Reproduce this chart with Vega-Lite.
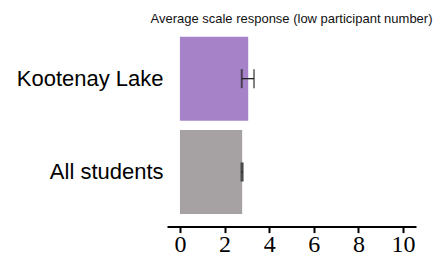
{
  "$schema": "https://vega.github.io/schema/vega-lite/v6.json",
  "width": 249,
  "height": 186.6,
  "autosize": {"type": "none"},
  "padding": {"left": 167, "top": 32, "right": 31, "bottom": 40},
  "background": "white",
  "config": {"view": {"stroke": null}, "font": "Liberation Sans"},
  "title": {
    "text": "Average scale response (low participant number)",
    "fontSize": 13,
    "fontWeight": "normal",
    "font": "Liberation Sans",
    "color": "#111111",
    "anchor": "middle",
    "baseline": "alphabetic",
    "offset": -4
  },
  "data": {
    "values": [
      {"group": "Kootenay Lake", "mean": 3.06, "lo": 2.77, "hi": 3.32},
      {"group": "All students", "mean": 2.79, "lo": 2.76, "hi": 2.82}
    ]
  },
  "encoding": {
    "y": {
      "field": "group",
      "type": "nominal",
      "sort": ["Kootenay Lake", "All students"],
      "scale": {"paddingInner": 0.1, "paddingOuter": 0.05},
      "axis": {
        "title": null,
        "domain": false,
        "ticks": false,
        "labelFontSize": 22,
        "labelColor": "black",
        "labelPadding": 4,
        "labelFont": "Liberation Sans"
      }
    }
  },
  "layer": [
    {
      "mark": {"type": "bar"},
      "encoding": {
        "x": {
          "field": "mean",
          "type": "quantitative",
          "scale": {"domain": [-0.58, 10.58], "nice": false, "zero": false},
          "axis": {
            "title": null,
            "values": [0, 2, 4, 6, 8, 10],
            "grid": false,
            "domainColor": "black",
            "domainWidth": 2,
            "tickColor": "black",
            "tickWidth": 2,
            "tickSize": 6,
            "offset": 8,
            "labelFontSize": 24,
            "labelFont": "Liberation Sans Narrow",
            "labelColor": "black",
            "labelPadding": 0
          }
        },
        "x2": {"datum": 0},
        "color": {
          "field": "group",
          "type": "nominal",
          "scale": {"domain": ["Kootenay Lake", "All students"], "range": ["#A683C8", "#A6A2A4"]},
          "legend": null
        }
      }
    },
    {
      "mark": {"type": "rule", "color": "#222222", "strokeWidth": 1.3},
      "encoding": {
        "x": {"field": "lo", "type": "quantitative"},
        "x2": {"field": "hi"}
      }
    },
    {
      "mark": {"type": "tick", "color": "#222222", "thickness": 2, "size": 19, "orient": "vertical"},
      "encoding": {"x": {"field": "lo", "type": "quantitative"}}
    },
    {
      "mark": {"type": "tick", "color": "#222222", "thickness": 1.6, "size": 19, "orient": "vertical"},
      "encoding": {"x": {"field": "hi", "type": "quantitative"}}
    }
  ]
}
